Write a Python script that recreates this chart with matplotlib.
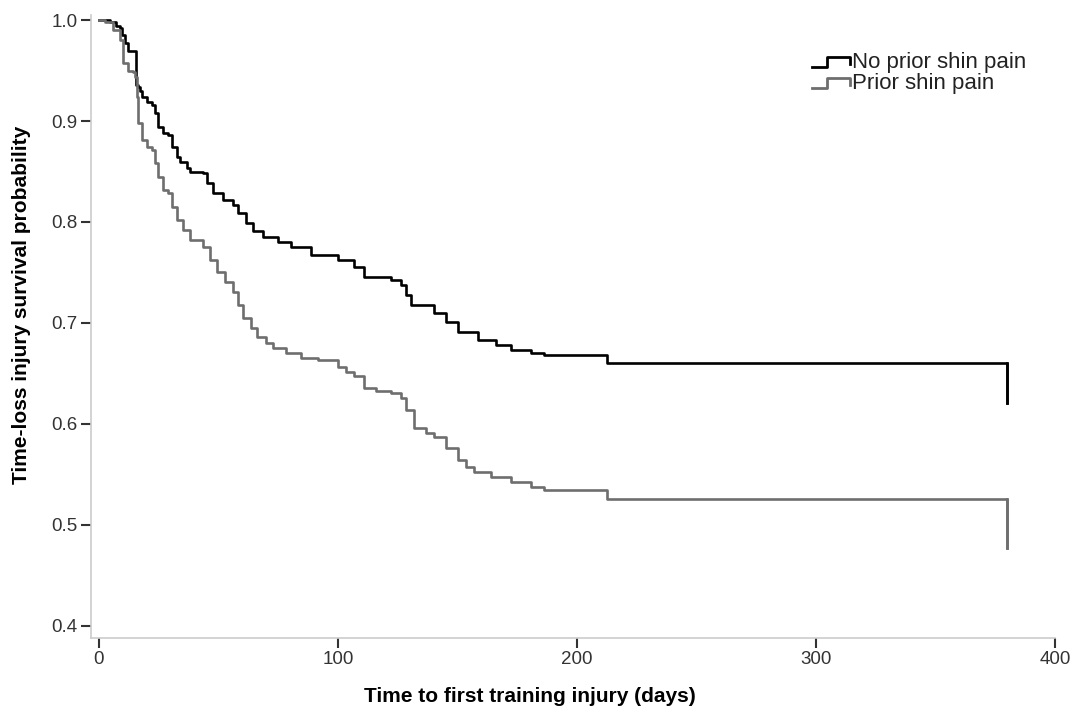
import matplotlib.pyplot as plt
from matplotlib.lines import Line2D
from matplotlib.legend_handler import HandlerBase

plt.rcParams['font.family'] = ['Liberation Sans', 'DejaVu Sans']

# Kaplan-Meier estimates
days_no_prior = [0, 4.6, 7.1, 8.8, 9.7, 10.9, 12.2, 15.5, 16.4, 17.2, 18.0, 20.1, 22.2, 23.5,
                 24.8, 26.9, 29.0, 30.6, 32.7, 34.0, 36.9, 38.2, 43.7, 45.3, 47.8, 52.0, 56.2,
                 58.3, 61.3, 64.6, 68.8, 74.7, 80.2, 88.6, 99.9, 106.6, 110.8, 122.1, 126.3,
                 128.4, 130.5, 140.2, 145.2, 150.3, 158.7, 166.2, 172.5, 180.9, 186.4, 212.4, 380]
surv_no_prior = [1.000, 0.998, 0.994, 0.992, 0.985, 0.977, 0.969, 0.936, 0.934, 0.930, 0.924,
                 0.919, 0.916, 0.908, 0.894, 0.888, 0.886, 0.874, 0.864, 0.859, 0.853, 0.850,
                 0.849, 0.839, 0.829, 0.822, 0.817, 0.809, 0.799, 0.791, 0.785, 0.780, 0.775,
                 0.767, 0.762, 0.755, 0.746, 0.743, 0.738, 0.728, 0.718, 0.710, 0.701, 0.691,
                 0.683, 0.678, 0.673, 0.670, 0.668, 0.660, 0.621]

days_prior = [0, 2.5, 5.9, 8.8, 10.1, 12.2, 14.3, 15.1, 15.9, 16.4, 18.0, 20.1, 22.2, 23.5,
              24.8, 26.9, 29.0, 30.6, 32.7, 35.3, 38.2, 43.7, 46.6, 49.5, 52.9, 56.2, 58.3,
              60.4, 63.4, 66.3, 69.7, 73.0, 78.1, 84.4, 91.5, 99.9, 103.3, 106.6, 110.8,
              115.8, 122.1, 126.3, 128.4, 131.8, 136.8, 140.2, 145.2, 150.3, 153.6, 157.0,
              164.1, 172.5, 180.9, 186.4, 212.4, 380]
surv_prior = [1.000, 0.998, 0.990, 0.980, 0.957, 0.950, 0.949, 0.944, 0.924, 0.898, 0.881,
              0.874, 0.871, 0.858, 0.845, 0.832, 0.829, 0.815, 0.802, 0.792, 0.782, 0.775,
              0.762, 0.750, 0.741, 0.731, 0.718, 0.705, 0.695, 0.686, 0.680, 0.675, 0.670,
              0.665, 0.663, 0.656, 0.651, 0.647, 0.636, 0.633, 0.631, 0.626, 0.614, 0.596,
              0.591, 0.587, 0.576, 0.564, 0.557, 0.552, 0.547, 0.542, 0.538, 0.535, 0.526, 0.477]

labels = ['No prior shin pain', 'Prior shin pain']
colors = ['#000000', '#6e6e6e']


class StepHandler(HandlerBase):
    # small step glyph like the SPSS legend
    def create_artists(self, legend, orig_handle, xdescent, ydescent, width, height, fontsize, trans):
        xs = [0, 0.4 * width, 0.4 * width, width, width]
        ys = [0.05 * height, 0.05 * height, 0.8 * height, 0.8 * height, 0.25 * height]
        ln = Line2D(xs, ys, color=orig_handle.get_color(), lw=2, transform=trans)
        return [ln]


fig = plt.figure(figsize=(10.73, 7.11), dpi=100)
ax = fig.add_axes([0.0848, 0.1027, 0.8984, 0.8762])

l1, = ax.plot(days_no_prior, surv_no_prior, drawstyle='steps-post', color=colors[0], lw=1.9)
l2, = ax.plot(days_prior, surv_prior, drawstyle='steps-post', color=colors[1], lw=1.9)
# drop at the last follow-up time
ax.plot([days_no_prior[-1]] * 2, [surv_no_prior[-2], surv_no_prior[-1]], color=colors[0], lw=1.9)
ax.plot([days_prior[-1]] * 2, [surv_prior[-2], surv_prior[-1]], color=colors[1], lw=1.9)

ax.set_xlim(-3.35, 400)
ax.set_ylim(0.388, 1.005)
ax.set_xticks([0, 100, 200, 300, 400])
ax.set_yticks([0.4, 0.5, 0.6, 0.7, 0.8, 0.9, 1.0])
ax.set_yticklabels(['0.4', '0.5', '0.6', '0.7', '0.8', '0.9', '1.0'])

for s in ['top', 'right']:
    ax.spines[s].set_visible(False)
for s in ['left', 'bottom']:
    ax.spines[s].set_color('#cccccc')
    ax.spines[s].set_linewidth(1.2)
ax.tick_params(axis='both', length=7.5, width=1.5, color='#333333', labelsize=13.5,
               labelcolor='#333333', pad=2)

ax.set_xlabel('Time to first training injury (days)', fontsize=15, fontweight='bold')
ax.set_ylabel('Time-loss injury survival probability', fontsize=15, fontweight='bold')
ax.xaxis.set_label_coords(0.455, -0.079)
ax.yaxis.set_label_coords(-0.062, 0.535)

ax.legend([l1, l2], labels, handler_map={Line2D: StepHandler()}, loc='upper left',
          bbox_to_anchor=(812 / 1073, 1 - 52 / 711), bbox_transform=fig.transFigure,
          frameon=False, fontsize=16, handlelength=1.7, handleheight=0.6,
          handletextpad=0.1, labelspacing=0.0, borderpad=0, borderaxespad=0,
          labelcolor='#222222')

fig.savefig('out.png', dpi=100)
